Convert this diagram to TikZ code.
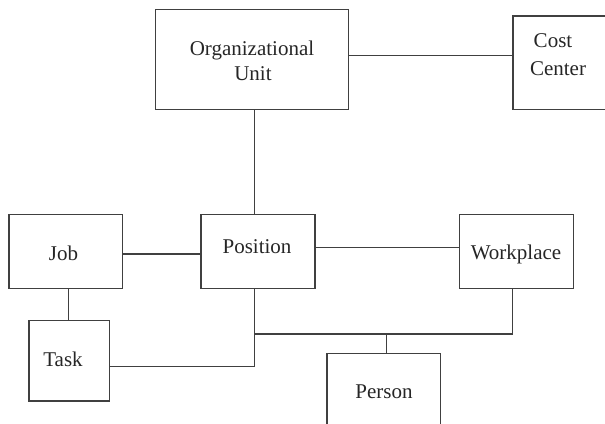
\documentclass[tikz,border=0pt]{standalone}
\usepackage{fontspec}
\setmainfont{Liberation Serif}
\begin{document}
\begin{tikzpicture}[x=1pt,y=-1pt,
  box/.style={draw=black!75,line width=1.1pt,inner sep=0pt,outer sep=0pt,rectangle},
  lbl/.style={font=\fontsize{21}{25}\selectfont,inner sep=0pt,anchor=base,text=black!85},
  conn/.style={draw=black!75,line width=1.1pt}]
\useasboundingbox (0,0) rectangle (605,423);
% boxes
\node[box,minimum width=193.3pt,minimum height=100pt] (org) at (251.7,59.3) {};
\node[box,minimum width=107pt,minimum height=93.3pt] (cost) at (566.5,62.65) {};
\node[box,minimum width=113.7pt,minimum height=73.6pt] (job) at (65.85,251.5) {};
\node[box,minimum width=114pt,minimum height=73.6pt] (pos) at (258,251.5) {};
\node[box,minimum width=113.6pt,minimum height=73.6pt] (wp) at (516.5,251.5) {};
\node[box,minimum width=80.3pt,minimum height=80.3pt] (task) at (69.15,360.85) {};
\node[box,minimum width=113.3pt,minimum height=73.6pt] (pers) at (383.65,390.5) {};
% labels
\node[lbl] (tOrg1) at (252,55) {Organizational};
\node[lbl] (tOrg2) at (253,80) {Unit};
\node[lbl] (tCost1) at (553,47.5) {Cost};
\node[lbl] (tCost2) at (558,75) {Center};
\node[lbl] (tJob) at (63.5,260) {Job};
\node[lbl] (tPos) at (257,253.3) {Position};
\node[lbl] (tWp) at (516,259) {Workplace};
\node[lbl] (tTask) at (63,366) {Task};
\node[lbl] (tPers) at (384,398) {Person};
% junction coordinates
\coordinate (oc) at (430,55.3);
\coordinate (jp) at (160,254);
\coordinate (pw) at (390,247.3);
\coordinate (jt) at (68.7,305);
\coordinate (busL) at (254.5,334);
\coordinate (busR) at (512.3,334);
\coordinate (persJ) at (386.7,334);
\coordinate (taskJ) at (254.5,366.7);
% connectors
\draw[conn] (org.east |- oc) -- (cost.west |- oc);
\draw[conn] (org.south -| busL) -- (pos.north -| busL);
\draw[conn] (job.east |- jp) -- (pos.west |- jp);
\draw[conn] (pos.east |- pw) -- (wp.west |- pw);
\draw[conn] (job.south -| jt) -- (task.north -| jt);
\draw[conn] (pos.south -| busL) -- (busL) -- (busR) -- (wp.south -| busR);
\draw[conn] (persJ) -- (pers.north -| persJ);
\draw[conn] (task.east |- taskJ) -- (taskJ) -- (busL);
\end{tikzpicture}
\end{document}
